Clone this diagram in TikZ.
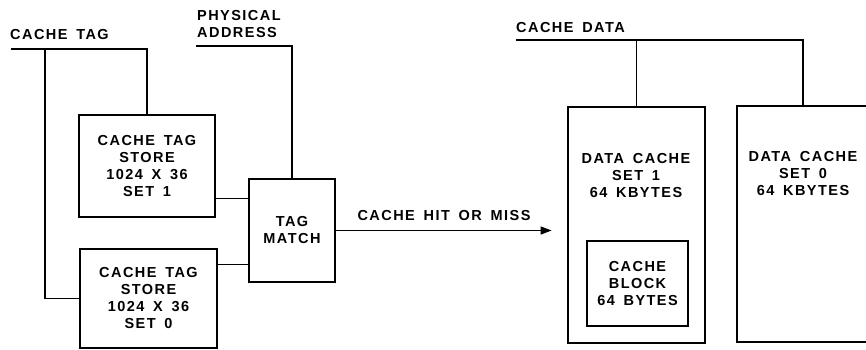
\documentclass[tikz,border=0pt]{standalone}
\usepackage{fontspec}
\setmainfont{Liberation Sans}[LetterSpace=10,WordSpace=1.6]
\usetikzlibrary{arrows.meta}

\begin{document}
\begin{tikzpicture}[x=1pt,y=-1pt,
        box/.style={draw,line width=2.8pt,inner sep=0pt},
        wire/.style={line width=1.3pt},
        lbl/.style={inner sep=0pt,anchor=west,align=left},
        every node/.style={font=\bfseries\fontsize{14.5}{17}\selectfont,align=center}]
            \useasboundingbox (0,0) rectangle (866,350);

            \node[box,minimum width=136,minimum height=102] (set1) at (147,166) {CACHE TAG\\STORE\\1024 X 36\\SET 1};
            \node[box,minimum width=137,minimum height=99] (set0) at (148.5,298.5) {CACHE TAG\\STORE\\1024 X 36\\SET 0};
            \node[box,minimum width=86,minimum height=103] (match) at (292,230.5) {TAG\\MATCH};
            \node[box,minimum width=137,minimum height=236] (data1) at (636.5,225) {};
            \node[box,minimum width=132,minimum height=236] (data0) at (803,224) {};
            \node[box,minimum width=101,minimum height=85] (block) at (637.5,283.5) {CACHE\\BLOCK\\64 BYTES};
            \node (data1txt) at (636,176) {DATA CACHE\\SET 1\\64 KBYTES};
            \node (data0txt) at (803,174) {DATA CACHE\\SET 0\\64 KBYTES};

            \node[lbl] (taglbl) at (10,35) {CACHE TAG};
            \node[lbl] (addrlbl) at (197,24) {PHYSICAL\\ADDRESS};
            \node[lbl] (datalbl) at (516,28) {CACHE DATA};

            \coordinate (tagin) at (11,49);
            \coordinate (tagtap) at (45,49);
            \coordinate (addrin) at (196,46);
            \coordinate (datain) at (516,40);

            \draw[wire] (tagin) -| (set1.north);
            \draw[wire] (tagtap) |- (set0.west);
            \draw[wire] (addrin) -| (match.north);
            \draw[wire] (set1.-25) -- (set1.-25 -| match.west);
            \draw[wire] (set0.26) -- (set0.26 -| match.west);
            \draw[wire,-{Triangle[length=11pt,width=8pt]}] (match.east) -- node[above=6pt] (hitlbl) {CACHE HIT OR MISS} ([xshift=-15pt]match.east -| data1.west);
            \draw[wire] (datain) -| (data0.north);
            \draw[wire] (data1.north) -- (data1.north |- datain);
        \end{tikzpicture}
\end{document}
